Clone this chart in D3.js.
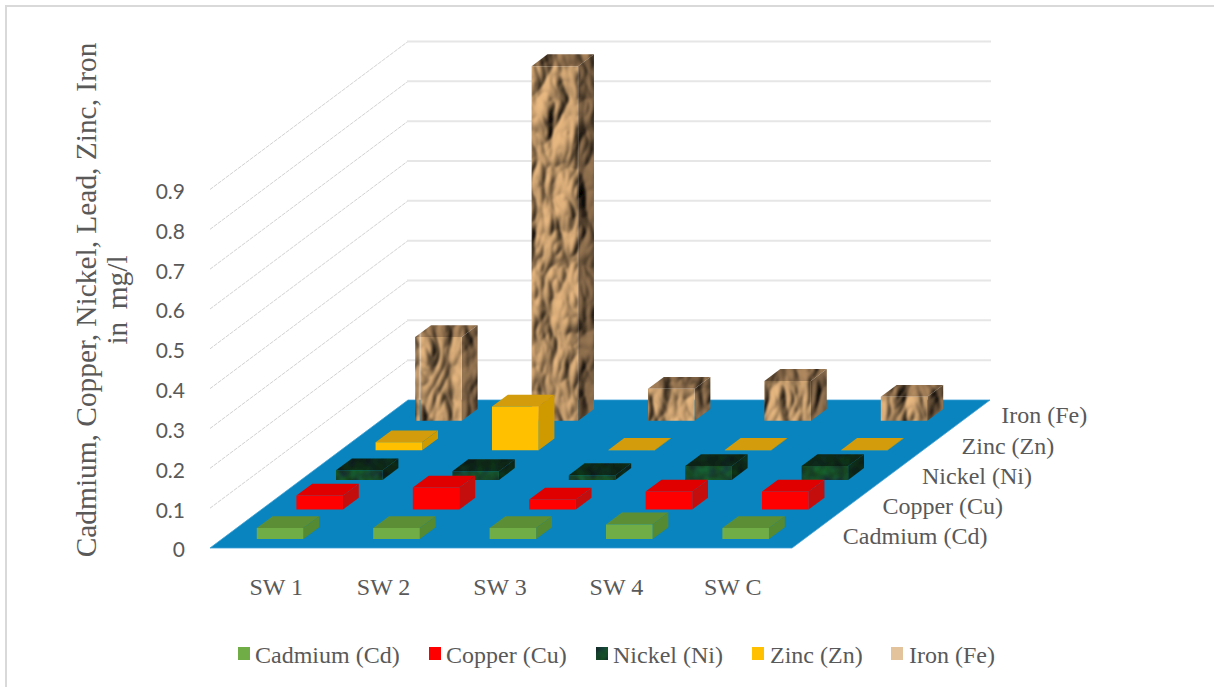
<!DOCTYPE html>
<html>
<head>
<meta charset="utf-8">
<script src="https://d3js.org/d3.v7.min.js"></script>
<style>
html,body{margin:0;padding:0;background:#fff;overflow:hidden}
text{font-family:"Liberation Serif",serif;fill:#595959}
</style>
</head>
<body>
<svg id="chart" width="1214" height="687"></svg>
<script>
// ---- data ----
const categories = ["SW 1", "SW 2", "SW 3", "SW 4", "SW C"];
const seriesNames = ["Cadmium (Cd)", "Copper (Cu)", "Nickel (Ni)", "Zinc (Zn)", "Iron (Fe)"];
const cadmium = [0.028, 0.028, 0.028, 0.037, 0.028];
const copper  = [0.035, 0.055, 0.025, 0.045, 0.045];
const nickel  = [0.024, 0.022, 0.012, 0.035, 0.035];
const zinc    = [0.020, 0.110, 0.001, 0.001, 0.001];
const iron    = [0.210, 0.890, 0.080, 0.100, 0.060];
const valueTicks = [0, 0.1, 0.2, 0.3, 0.4, 0.5, 0.6, 0.7, 0.8, 0.9];
const titleLines = ["Cadmium, Copper, Nickel, Lead, Zinc, Iron", "in mg/l"];

// ---- layout ----
const W = 1214, H = 687;
const originX = 210, originY = 548, floorW = 582, skewX = 198, skewY = 148, wallH = 358.5;
const seriesValues = [cadmium, copper, nickel, zinc, iron];
const legendLayout = [[238, 17], [429, 17], [596, 17], [752, 18], [891, 18]];
const fills = [
  {front:"#70ad47", side:"#548a30", top:"#5c8f35", legend:"#70ad47"},
  {front:"#ff0000", side:"#c40d0d", top:"#e00404", legend:"#ff0000"},
  {front:"url(#niTex)", side:"url(#niTexD)", top:"url(#niTexD)", legend:"url(#niTex)"},
  {front:"#ffc000", side:"#cf9a06", top:"#d29c08", legend:"#ffc000"},
  {front:"url(#feTex)", side:"url(#feTexD)", top:"url(#feTexT)", legend:"#e3c39c"}
];

const x = d3.scaleBand().domain(categories).range([0, floorW]).paddingInner(0.6).paddingOuter(0.3);
const xStep = d3.scaleBand().domain(categories).range([0, floorW]);
const depth = d3.scaleBand().domain(seriesNames).range([0, 1]).paddingInner(0.6).paddingOuter(0.3);
const depthStep = d3.scaleBand().domain(seriesNames).range([0, 1]);
const y = d3.scaleLinear().domain([0, 0.9]).range([0, wallH]);
const P = (u, d, v) => [originX + u + d * skewX, originY - d * skewY - v];
const poly = pts => "M" + pts.map(p => p.map(n => n.toFixed(2)).join(",")).join("L") + "Z";

const svg = d3.select("#chart");
const defs = svg.append("defs");

// soft look of the reference
defs.append("filter").attr("id", "soft").attr("x", "-5%").attr("y", "-5%").attr("width", "110%").attr("height", "110%")
  .append("feGaussianBlur").attr("stdDeviation", 0.6);

// crumpled rock surface used by the Iron bars
function rockFilter(id, m) {
  const f = defs.append("filter").attr("id", id).attr("x", 0).attr("y", 0).attr("width", "100%").attr("height", "100%")
    .attr("color-interpolation-filters", "sRGB");
  f.append("feTurbulence").attr("type", "turbulence").attr("baseFrequency", "0.03 0.015")
    .attr("numOctaves", 3).attr("seed", 5).attr("result", "n");
  const l = f.append("feDiffuseLighting").attr("in", "n").attr("surfaceScale", 7.5).attr("diffuseConstant", 1.0)
    .attr("lighting-color", "#ffffff");
  l.append("feDistantLight").attr("azimuth", 210).attr("elevation", 50);
  const t = f.append("feComponentTransfer");
  ["R","G","B"].forEach((c, i) => {
    t.append("feFunc" + c).attr("type", "linear").attr("slope", m[i]).attr("intercept", 0);
  });
  f.append("feGaussianBlur").attr("stdDeviation", 0.9);
}
rockFilter("rock", [0.92, 0.73, 0.51]);
rockFilter("rockT", [0.72, 0.56, 0.39]);
rockFilter("rockD", [0.60, 0.47, 0.33]);
[["feTex", "rock"], ["feTexT", "rockT"], ["feTexD", "rockD"]].forEach(([id, fl]) => {
  defs.append("pattern").attr("id", id).attr("patternUnits", "userSpaceOnUse").attr("width", 420).attr("height", 560)
    .append("rect").attr("width", 420).attr("height", 560).attr("filter", `url(#${fl})`);
});

// mottled dark green used by the Nickel bars
function mossFilter(id, a, b) {
  const f = defs.append("filter").attr("id", id).attr("x", 0).attr("y", 0).attr("width", "100%").attr("height", "100%")
    .attr("color-interpolation-filters", "sRGB");
  f.append("feTurbulence").attr("type", "fractalNoise").attr("baseFrequency", "0.09").attr("numOctaves", 2).attr("seed", 3);
  f.append("feColorMatrix").attr("type", "matrix").attr("values",
    `0 0 0 0 ${a[0]} 0 ${b} 0 0 ${a[1]} 0 0 ${b * 0.55} 0 ${a[2]} 0 0 0 0 1`);
}
mossFilter("moss", [0.08, 0.12, 0.08], 0.32);
mossFilter("mossD", [0.04, 0.08, 0.05], 0.16);
[["niTex", "moss"], ["niTexD", "mossD"]].forEach(([id, fl]) => {
  defs.append("pattern").attr("id", id).attr("patternUnits", "userSpaceOnUse").attr("width", 400).attr("height", 200)
    .append("rect").attr("width", 400).attr("height", 200).attr("filter", `url(#${fl})`);
});

// chart frame (top and left edges only are visible)
svg.append("path").attr("d", `M6,${H}V6H${W}`).attr("fill", "none").attr("stroke", "#d9d9d9").attr("stroke-width", 2);

// gridlines on the side and back walls
const gridTicks = valueTicks.filter(v => v > 0);
const grid = svg.append("g").attr("class", "grid");
grid.selectAll("path.side").data(gridTicks).join("path").attr("class", "side")
  .attr("d", v => { const a = P(0, 0, y(v)), b = P(0, 1, y(v)); return `M${a}L${b}`; })
  .attr("fill", "none").attr("stroke", "#d2d2d2").attr("stroke-width", 1).attr("stroke-dasharray", "4 1");
grid.selectAll("path.back").data(gridTicks).join("path").attr("class", "back")
  .attr("d", v => { const a = P(0, 1, y(v)), b = P(floorW, 1, y(v)); return `M${a}L${b}`; })
  .attr("fill", "none").attr("stroke", "#e6e6e6").attr("stroke-width", 2).attr("stroke-linecap", "square");

// floor
svg.append("path").attr("d", poly([P(0,0,0), P(floorW,0,0), P(floorW,1,0), P(0,1,0)]))
  .attr("fill", "#0a84bf").attr("stroke", "#3d9fd6").attr("stroke-width", 0.8);

// bars, back row first, painted left to right
const bars = [];
seriesNames.forEach((s, si) => categories.forEach((c, ci) => bars.push({s, c, si, ci, v: seriesValues[si][ci]})));
bars.sort((a, b) => b.si - a.si || a.ci - b.ci);

const barG = svg.append("g").selectAll("g").data(bars).join("g").attr("filter", "url(#soft)");
const geom = b => {
  const u0 = x(b.c), u1 = u0 + x.bandwidth();
  const d0 = depth(b.s), d1 = d0 + depth.bandwidth();
  const h = y(b.v);
  return {u0, u1, d0, d1, h};
};
barG.append("path").attr("d", b => { const g = geom(b);
    return poly([P(g.u0,g.d0,g.h), P(g.u1,g.d0,g.h), P(g.u1,g.d1,g.h), P(g.u0,g.d1,g.h)]); })
  .attr("fill", b => fills[b.si].top);
barG.append("path").attr("d", b => { const g = geom(b);
    return poly([P(g.u1,g.d0,0), P(g.u1,g.d1,0), P(g.u1,g.d1,g.h), P(g.u1,g.d0,g.h)]); })
  .attr("fill", b => fills[b.si].side);
barG.append("path").attr("d", b => { const g = geom(b);
    return poly([P(g.u0,g.d0,0), P(g.u1,g.d0,0), P(g.u1,g.d0,g.h), P(g.u0,g.d0,g.h)]); })
  .attr("fill", b => fills[b.si].front);

// value axis labels
svg.append("g").selectAll("text").data(valueTicks).join("text")
  .attr("x", 185).attr("y", v => originY - y(v) + 2).attr("dy", "0.35em")
  .attr("text-anchor", "end").style("font-family", "Lato, sans-serif").style("font-size", "21px")
  .text(v => d3.format("")(v));

// category labels
svg.append("g").selectAll("text").data(categories).join("text")
  .attr("x", (c, i) => originX + xStep(c) + xStep.bandwidth() / 2 + (i === 0 ? 8 : -1))
  .attr("y", 587).attr("dy", "0.35em").attr("text-anchor", "middle").style("font-size", "24px")
  .text(c => c);

// series labels along the floor's right edge
svg.append("g").selectAll("text").data(seriesNames).join("text")
  .attr("x", s => P(floorW, depthStep(s) + depthStep.bandwidth() / 2, 0)[0] + 31)
  .attr("y", (s, i) => P(floorW, depthStep(s) + depthStep.bandwidth() / 2, 0)[1] + 2.5 - i * 0.6)
  .attr("dy", "0.35em").style("font-size", "24px").text(s => s);

// axis title
const title = svg.append("g").attr("transform", "translate(96,300) rotate(-90)");
title.append("text").attr("text-anchor", "middle").style("font-size", "29.4px").text(titleLines[0]);
title.append("text").attr("text-anchor", "middle").attr("y", 31).style("font-size", "29.4px")
  .style("word-spacing", "5px").text(titleLines[1]);

// legend
const legend = svg.append("g");
seriesNames.forEach((s, i) => {
  const [lx, off] = legendLayout[i];
  legend.append("rect").attr("x", lx).attr("y", 647).attr("width", 12).attr("height", 13).attr("fill", fills[i].legend);
  legend.append("text").attr("x", lx + off).attr("y", 655).attr("dy", "0.35em").style("font-size", "24px").text(s);
});
</script>
</body>
</html>
